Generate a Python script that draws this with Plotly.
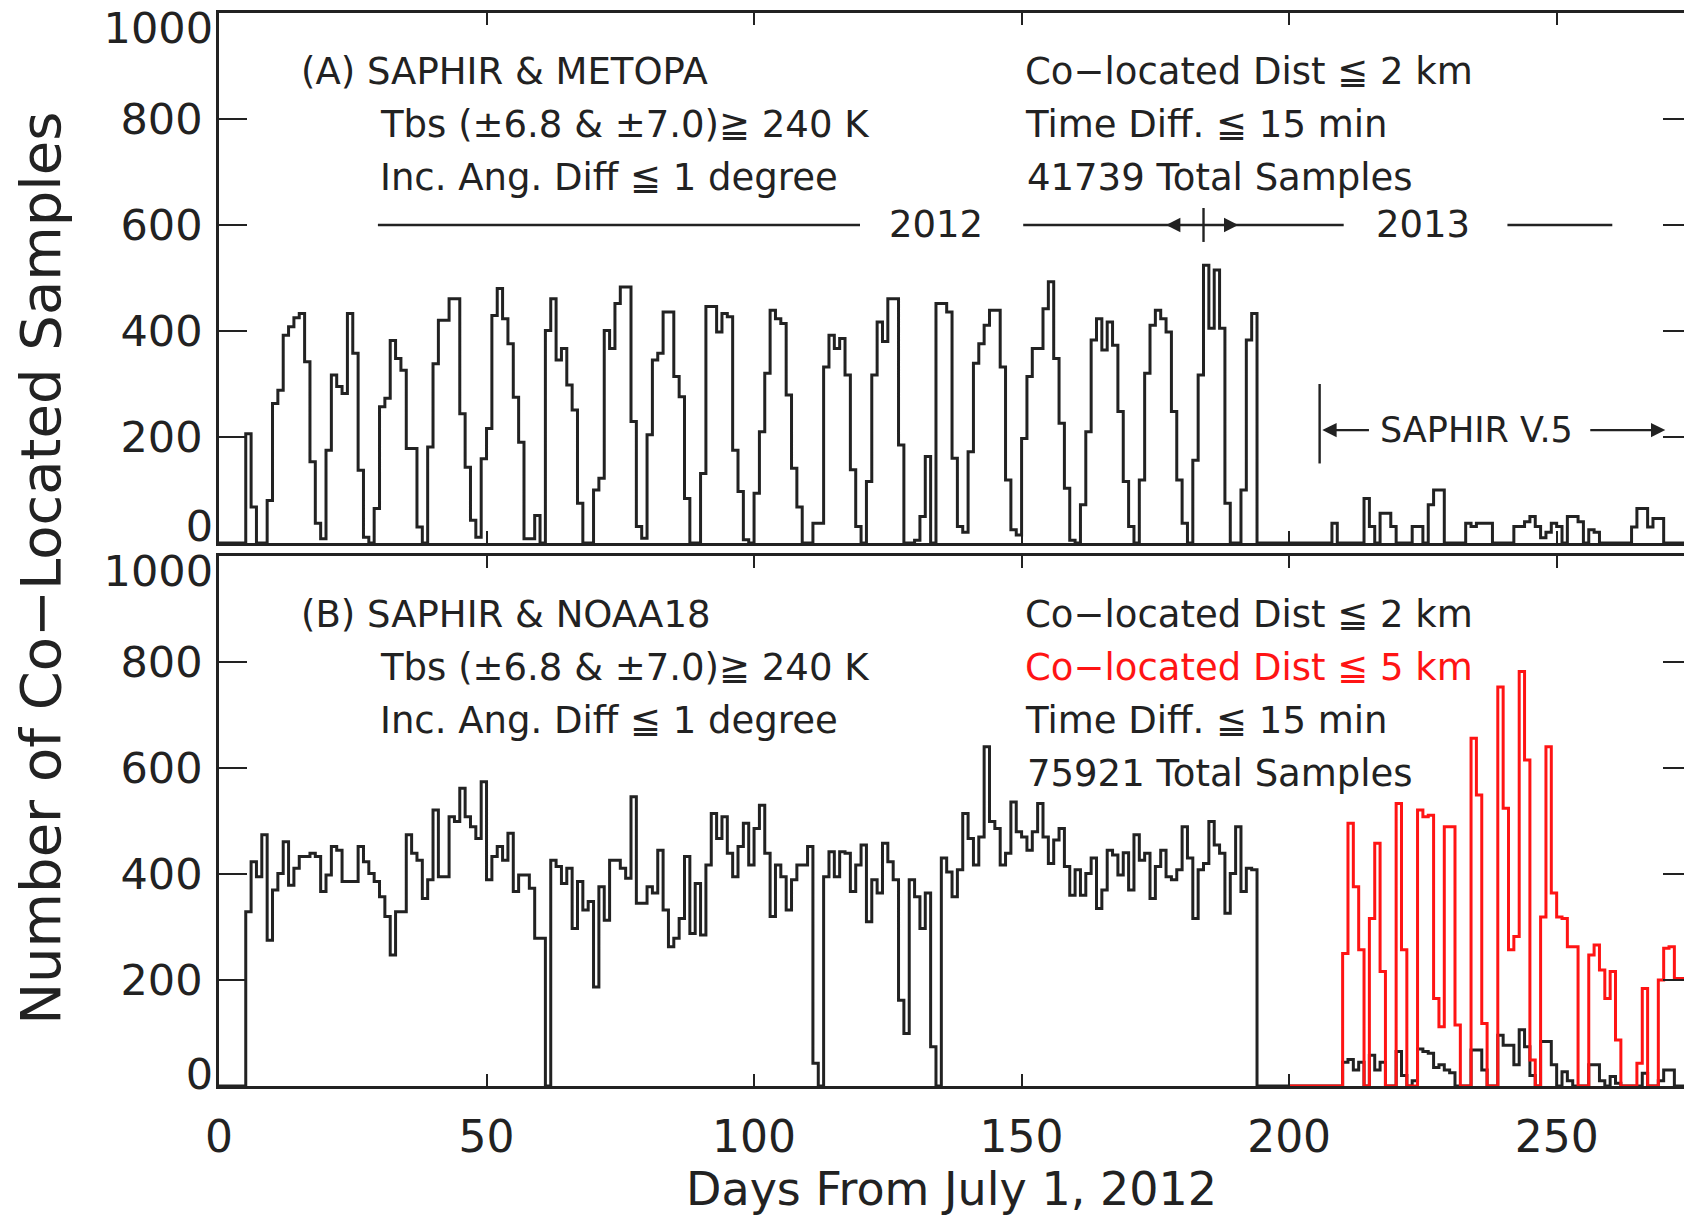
import plotly.graph_objects as go

# ---------------- data ----------------
METOPA_2KM = [
    0, 0, 0, 0, 0, 206, 68, 0, 0, 80,
    263, 288, 392, 408, 425, 433, 342, 153, 37, 8,
    175, 317, 295, 282, 433, 358, 137, 11, 0, 65,
    257, 273, 382, 348, 326, 178, 178, 30, 0, 181,
    338, 420, 420, 461, 461, 244, 143, 43, 11, 159,
    216, 429, 480, 423, 376, 275, 190, 8, 8, 52,
    0, 401, 461, 345, 367, 298, 251, 75, 0, 0,
    100, 122, 401, 367, 452, 483, 483, 229, 31, 9,
    204, 345, 358, 436, 436, 314, 276, 84, 0, 0,
    131, 446, 446, 398, 433, 427, 175, 97, 6, 0,
    94, 210, 320, 439, 423, 414, 279, 141, 68, 0,
    0, 37, 37, 332, 392, 367, 386, 317, 138, 31,
    0, 116, 317, 417, 380, 461, 461, 185, 0, 0,
    5, 50, 163, 0, 452, 452, 436, 160, 31, 20,
    172, 339, 376, 411, 439, 439, 332, 119, 25, 15,
    197, 314, 367, 367, 442, 493, 348, 226, 103, 5,
    0, 72, 210, 383, 423, 364, 417, 373, 248, 116,
    31, 0, 119, 320, 411, 439, 423, 398, 248, 119,
    37, 0, 156, 317, 524, 405, 515, 405, 75, 0,
    0, 100, 383, 433, 0, 0, 0, 0, 0, 0,
    0, 0, 0, 0, 0, 0, 0, 0, 37, 0,
    0, 0, 0, 0, 84, 31, 0, 56, 56, 31,
    0, 0, 0, 31, 31, 0, 72, 100, 100, 0,
    0, 0, 0, 37, 31, 37, 37, 37, 0, 0,
    0, 0, 31, 31, 40, 50, 31, 10, 20, 37,
    31, 0, 50, 50, 40, 0, 25, 20, 0, 0,
    0, 0, 0, 0, 30, 65, 65, 30, 46, 46,
    0, 0, 0, 0,
]

NOAA18_2KM = [
    0, 0, 0, 0, 0, 329, 423, 395, 474, 275,
    370, 401, 461, 379, 411, 433, 433, 439, 433, 367,
    398, 452, 445, 386, 386, 386, 452, 423, 401, 386,
    357, 320, 247, 329, 329, 474, 439, 426, 354, 389,
    521, 395, 395, 508, 499, 562, 508, 489, 467, 574,
    389, 433, 452, 426, 477, 367, 398, 398, 373, 279,
    279, 0, 426, 414, 382, 411, 297, 386, 332, 348,
    187, 376, 313, 426, 426, 411, 392, 546, 345, 345,
    376, 364, 445, 332, 263, 279, 316, 433, 288, 382,
    285, 417, 514, 467, 508, 439, 395, 452, 496, 417,
    486, 530, 439, 320, 417, 395, 332, 389, 417, 417,
    452, 43, 0, 395, 442, 395, 442, 439, 367, 417,
    455, 310, 389, 364, 458, 423, 389, 162, 99, 389,
    357, 297, 364, 74, 0, 430, 404, 357, 408, 514,
    467, 417, 470, 640, 499, 486, 417, 439, 536, 480,
    470, 445, 480, 533, 470, 420, 464, 486, 414, 360,
    408, 360, 401, 430, 335, 370, 445, 436, 398, 440,
    370, 474, 426, 439, 354, 414, 445, 395, 389, 408,
    489, 430, 316, 408, 420, 499, 455, 439, 326, 401,
    489, 367, 411, 408, 0, 0, 0, 0, 0, 0,
    0, 0, 0, 0, 0, 0, 0, 0, 0, 0,
    45, 50, 30, 45, 0, 58, 30, 45, 0, 0,
    65, 20, 0, 10, 70, 65, 62, 35, 40, 30,
    25, 0, 0, 0, 68, 68, 30, 0, 0, 96,
    77, 77, 40, 106, 74, 20, 0, 84, 84, 40,
    0, 27, 10, 0, 0, 0, 40, 40, 10, 0,
    18, 5, 0, 0, 0, 0, 24, 0, 0, 10,
    30, 30, 0, 0,
]

RED_START_DAY = 200
NOAA18_5KM = [
    0, 0, 0, 0, 0, 0, 0, 0, 0, 0,
    250, 496, 376, 257, 0, 316, 458, 216, 0, 0,
    533, 257, 0, 0, 521, 508, 511, 165, 112, 489,
    489, 115, 0, 0, 656, 549, 118, 0, 0, 753,
    524, 257, 282, 782, 615, 49, 0, 319, 640, 364,
    319, 316, 263, 263, 0, 0, 247, 266, 219, 165,
    216, 87, 0, 0, 0, 43, 184, 0, 0, 200,
    260, 263, 203, 203,
]

X_TICKS = [0, 50, 100, 150, 200, 250]
Y_TICKS = [200, 400, 600, 800]
X_RANGE = [0, 273.8]
Y_RANGE = [0, 1000]

# annotation geometry (data units)
YEAR_LINE_Y = 600
YEAR_SEGMENTS = [(29.7, 119.8), (150.3, 210.2), (240.8, 260.4)]
NEW_YEAR_DAY = 184
V5_DAY = 205.7

INK = "#222222"
RED = "#ff1414"
FONT = "DejaVu Sans"


def steps(start, vals):
    xs = [start + i for i in range(len(vals))] + [start + len(vals)]
    ys = list(vals) + [vals[-1]]
    return xs, ys


fig = go.Figure()

LW = 3.0
xa, ya = steps(0, METOPA_2KM)
fig.add_trace(go.Scatter(x=xa, y=ya, mode="lines", xaxis="x", yaxis="y",
                         line=dict(color=INK, width=LW, shape="hv"),
                         showlegend=False, hoverinfo="skip"))
xb, yb = steps(0, NOAA18_2KM)
fig.add_trace(go.Scatter(x=xb, y=yb, mode="lines", xaxis="x2", yaxis="y2",
                         line=dict(color=INK, width=LW, shape="hv"),
                         showlegend=False, hoverinfo="skip"))
xr, yr = steps(RED_START_DAY, NOAA18_5KM)
fig.add_trace(go.Scatter(x=xr, y=yr, mode="lines", xaxis="x2", yaxis="y2",
                         line=dict(color=RED, width=LW, shape="hv"),
                         showlegend=False, hoverinfo="skip"))

# dummy traces so overlay axes are drawn
for xk, yk in [("x", "y3"), ("x", "y5"), ("x", "y7"), ("x2", "y4"), ("x2", "y6"), ("x2", "y8")]:
    fig.add_trace(go.Scatter(x=[None], y=[None], xaxis=xk, yaxis=yk,
                             showlegend=False, hoverinfo="skip"))

A_DOM = [0.5061, 1.0]
B_DOM = [0.0, 0.4939]
TICKFONT = dict(family=FONT, size=43, color=INK)
STANDOFF = 5

base_x = dict(range=X_RANGE, tickvals=X_TICKS, ticks="inside", ticklen=12, tickwidth=2,
              tickcolor=INK, showline=True, linewidth=2.8, linecolor=INK, mirror="ticks",
              showgrid=False, zeroline=False, domain=[0, 1], automargin=False)
base_y = dict(range=Y_RANGE, tickvals=Y_TICKS, ticks="inside", ticklen=28, tickwidth=2,
              tickcolor=INK, showline=True, linewidth=2.8, linecolor=INK,
              showgrid=False, zeroline=False, tickfont=TICKFONT, ticklabelstandoff=STANDOFF,
              automargin=False)


def label_axis(over, val, shift):
    return dict(overlaying=over, anchor="x" if over == "y" else "x2", side="left",
                range=Y_RANGE, tickvals=[val], ticktext=[str(val)], ticks="",
                showline=False, showgrid=False, zeroline=False, tickfont=TICKFONT,
                ticklabelshift=shift, ticklabelstandoff=STANDOFF, automargin=False)


def right_ticks(over):
    return dict(overlaying=over, anchor="x" if over == "y" else "x2", side="right",
                range=Y_RANGE, tickvals=Y_TICKS, ticks="inside", ticklen=21, tickwidth=2,
                tickcolor=INK, showticklabels=False, showline=False, showgrid=False,
                zeroline=False, automargin=False)


fig.update_layout(
    width=1684, height=1220,
    margin=dict(l=219, r=0, t=13, b=134),
    paper_bgcolor="white", plot_bgcolor="white",
    font=dict(family=FONT, color=INK),
    xaxis=dict(base_x, anchor="y", showticklabels=False),
    xaxis2=dict(base_x, anchor="y2", matches="x", showticklabels=True,
                tickfont=dict(family=FONT, size=44, color=INK), ticklabelstandoff=10,
                title=dict(text="Days From July 1, 2012",
                           font=dict(family=FONT, size=46, color=INK), standoff=10)),
    yaxis=dict(base_y, domain=A_DOM, anchor="x"),
    yaxis2=dict(base_y, domain=B_DOM, anchor="x2"),
    yaxis3=label_axis("y", 1000, 15),
    yaxis5=label_axis("y", 0, -17),
    yaxis7=right_ticks("y"),
    yaxis4=label_axis("y2", 1000, 15),
    yaxis6=label_axis("y2", 0, -12),
    yaxis8=right_ticks("y2"),
)

TXT = 37
ann = []


def text(x, y, s, xr="x", yr="y", color=INK, anchor="left", size=TXT):
    ann.append(dict(x=x, y=y, xref=xr, yref=yr, text=s, showarrow=False,
                    xanchor=anchor, yanchor="middle",
                    font=dict(family=FONT, size=size, color=color)))


# panel A text
text(14.9, 890, "(A) SAPHIR &amp; METOPA")
text(29.7, 790, "Tbs (±6.8 &amp; ±7.0)≧ 240 K")
text(29.7, 690, "Inc. Ang. Diff ≦ 1 degree")
text(150.3, 890, "Co−located Dist ≦ 2 km")
text(150.3, 790, "Time Diff. ≦ 15 min")
text(150.6, 690, "41739 Total Samples")
text(134.0, YEAR_LINE_Y, "2012", anchor="center")
text(225.0, YEAR_LINE_Y, "2013", anchor="center")
text(235.0, 213, "SAPHIR V.5", anchor="center", size=35)

# panel B text
text(14.9, 890, "(B) SAPHIR &amp; NOAA18", "x2", "y2")
text(29.7, 790, "Tbs (±6.8 &amp; ±7.0)≧ 240 K", "x2", "y2")
text(29.7, 690, "Inc. Ang. Diff ≦ 1 degree", "x2", "y2")
text(150.3, 890, "Co−located Dist ≦ 2 km", "x2", "y2")
text(150.3, 790, "Co−located Dist ≦ 5 km", "x2", "y2", color=RED)
text(150.3, 690, "Time Diff. ≦ 15 min", "x2", "y2")
text(150.6, 590, "75921 Total Samples", "x2", "y2")

# arrows
for head, tail, yv in [(177.0, 181.5, YEAR_LINE_Y), (190.5, 186.5, YEAR_LINE_Y),
                       (206.2, 215.2, 213), (270.3, 256.0, 213)]:
    ann.append(dict(x=head, y=yv, ax=tail, ay=yv, xref="x", yref="y", axref="x", ayref="y",
                    text="", showarrow=True, arrowhead=2, arrowsize=1.3, arrowwidth=2.2,
                    arrowcolor=INK))

# y title
ann.append(dict(x=-0.1215, y=0.482, xref="paper", yref="paper", text="Number of Co−Located Samples",
                textangle=-90, showarrow=False, xanchor="center", yanchor="middle",
                font=dict(family=FONT, size=56, color=INK)))

shapes = []
for x0, x1 in YEAR_SEGMENTS:
    shapes.append(dict(type="line", xref="x", yref="y", x0=x0, x1=x1, y0=YEAR_LINE_Y, y1=YEAR_LINE_Y,
                       line=dict(color=INK, width=2.6)))
shapes.append(dict(type="line", xref="x", yref="y", x0=NEW_YEAR_DAY, x1=NEW_YEAR_DAY, y0=568, y1=632,
                   line=dict(color=INK, width=2.4)))
shapes.append(dict(type="line", xref="x", yref="y", x0=V5_DAY, x1=V5_DAY, y0=150, y1=300,
                   line=dict(color=INK, width=2.4)))

fig.update_layout(annotations=ann, shapes=shapes)

fig.write_html("out.html")
